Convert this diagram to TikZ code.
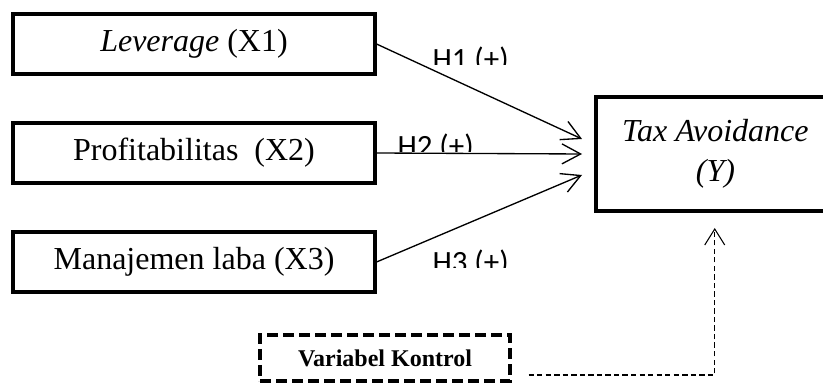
\documentclass[tikz,border=0pt]{standalone}
\usepackage{fontspec}
\setmainfont{Liberation Serif}
\newfontfamily\hypfont{Carlito}
\usetikzlibrary{arrows.meta,positioning}

\tikzstyle{varNode} = [rectangle, minimum width=135.4pt, minimum height=22.5pt, text centered, draw=black, line width=1.5pt, font=\fontsize{12pt}{15pt}\selectfont]
\tikzstyle{depNode} = [rectangle, minimum height=42.75pt, draw=black, line width=1.5pt, font=\fontsize{12pt}{15pt}\selectfont\itshape]
\tikzstyle{ctrlNode} = [rectangle, minimum width=93.75pt, minimum height=17.25pt, text centered, draw=black, line width=1.2pt, dash pattern=on 4pt off 2pt, font=\fontsize{9pt}{11pt}\selectfont\bfseries]
\tikzstyle{arrow} = [line width=0.5pt,-{Straight Barb[length=7pt,width=7.5pt]}]
\tikzstyle{dasharrow} = [line width=0.4pt, dash pattern=on 2pt off 1.2pt,-{Straight Barb[length=6pt,width=7.5pt]}]
\tikzstyle{hypLabel} = [anchor=base west, inner sep=0pt, font=\hypfont\fontsize{11.6pt}{14pt}\selectfont]

\begin{document}
\begin{tikzpicture}[x=0.375pt, y=-0.375pt, node distance=40.875pt]
    \useasboundingbox (0,0) rectangle (823,387);
    \clip (0,0) rectangle (823,387);

    \node (lev)[varNode] at (194,44) {\textit{Leverage} (X1)};
    \node (prof)[varNode, below of=lev] {Profitabilitas\ \ (X2)};
    \node (laba)[varNode, below of=prof] {Manajemen laba (X3)};
    % box runs past the right edge
    \node (tax)[depNode, anchor=west] at (594,154) {\hspace*{6.5pt}\raisebox{-3.5pt}{\begin{tabular}{@{}c@{}}Tax Avoidance\\(Y)\end{tabular}}\hspace*{30pt}};
    \node (kontrol)[ctrlNode] at (385,358) {Variabel Kontrol};

    \coordinate (t1) at ([shift={(-12,-15)}]tax.west);
    \coordinate (t2) at ([shift={(-12,0)}]tax.west);
    \coordinate (t3) at ([shift={(-12,21)}]tax.west);

    \draw [arrow] (lev.east) -- (t1);
    \draw [arrow] (prof.east) -- (t2);
    \draw [arrow] (laba.east) -- (t3);

    \coordinate (k1) at ([shift={(17,17)}]kontrol.east);
    \coordinate (k2) at ([shift={(-32,15)}]tax.south);
    \draw [dasharrow] (k1) -| (k2);

    % hypothesis labels, cut off at the bottom
    \begin{scope}
        \clip (420,40) rectangle (520,65);
        \node (h1)[hypLabel] at (432,70) {H1 (+)};
    \end{scope}
    \begin{scope}
        \clip (385,125) rectangle (485,152);
        \node (h2)[hypLabel] at (397,157) {H2 (+)};
    \end{scope}
    \begin{scope}
        \clip (420,243) rectangle (520,268);
        \node (h3)[hypLabel] at (432,273) {H3 (+)};
    \end{scope}
\end{tikzpicture}
\end{document}
